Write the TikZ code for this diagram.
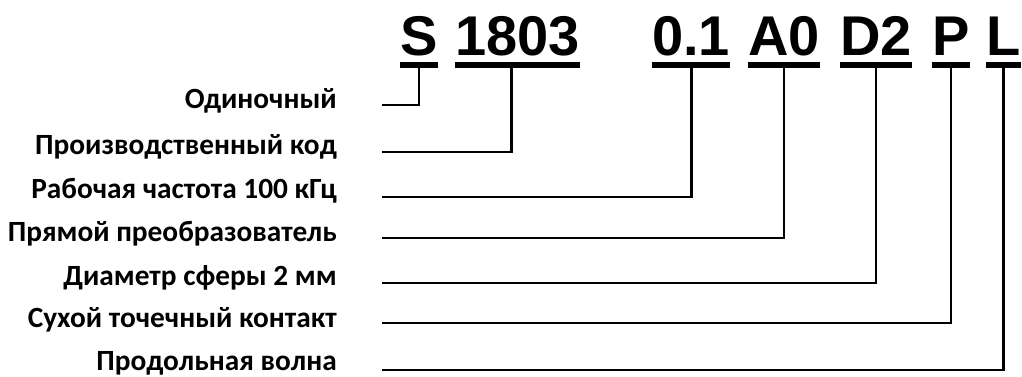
\documentclass[tikz,border=0pt]{standalone}
\usepackage{fontspec}
\newfontfamily\codefamily{Liberation Sans}
\newfontfamily\labelfamily{Carlito}

\tikzset{
  codetext/.style  = {font=\codefamily\bfseries\fontsize{42}{42}\selectfont,
                      inner sep=0pt, anchor=base west},
  labeltext/.style = {font=\labelfamily\bfseries\fontsize{22}{22}\selectfont,
                      inner sep=0pt, anchor=base east},
  underbar/.style  = {line width=4.5pt},
  leader/.style    = {line width=2pt}
}

\begin{document}
\begin{tikzpicture}[x=0.75pt, y=-0.75pt]
\useasboundingbox (0,0) rectangle (1022,376);

% code parts
\node[codetext] (cS)    at (400,55) {S};
\node[codetext] (c1803) at (455,55) {1803};
\node[codetext] (c01)   at (652,55) {0.1};
\node[codetext] (cA0)   at (748,55) {A0};
\node[codetext] (cD2)   at (840,55) {D2};
\node[codetext] (cP)    at (932,55) {P};
\node[codetext] (cL)    at (986,55) {L};

\foreach \c in {cS,c1803,c01,cA0,cD2,cP,cL}
  \draw[underbar] ([yshift=-7.5pt]\c.base west) -- ([yshift=-7.5pt]\c.base east);

% descriptions
\node[labeltext] (lS)    at (337,108) {Одиночный};
\node[labeltext] (l1803) at (337,154) {Производственный код};
\node[labeltext] (l01)   at (337,198) {Рабочая частота 100 кГц};
\node[labeltext] (lA0)   at (337,241) {Прямой преобразователь};
\node[labeltext] (lD2)   at (337,285) {Диаметр сферы 2 мм};
\node[labeltext] (lP)    at (337,327) {Сухой точечный контакт};
\node[labeltext] (lL)    at (337,370) {Продольная волна};

\coordinate (sS)    at (382,105);
\coordinate (s1803) at (382,152);
\coordinate (s01)   at (382,197);
\coordinate (sA0)   at (382,238);
\coordinate (sD2)   at (382,283);
\coordinate (sP)    at (382,323);
\coordinate (sL)    at (382,370);

% leaders
\draw[leader] (sS)    -| ([yshift=-7.5pt]cS.base);
\draw[leader] (s1803) -| ([xshift=-4.5pt,yshift=-7.5pt]c1803.base);
\draw[leader] (s01)   -| ([yshift=-7.5pt]c01.base);
\draw[leader] (sA0)   -| ([yshift=-7.5pt]cA0.base);
\draw[leader] (sD2)   -| ([yshift=-7.5pt]cD2.base);
\draw[leader] (sP)    -| ([yshift=-7.5pt]cP.base);
\draw[leader] (sL)    -| ([yshift=-7.5pt]cL.base);
\end{tikzpicture}
\end{document}
